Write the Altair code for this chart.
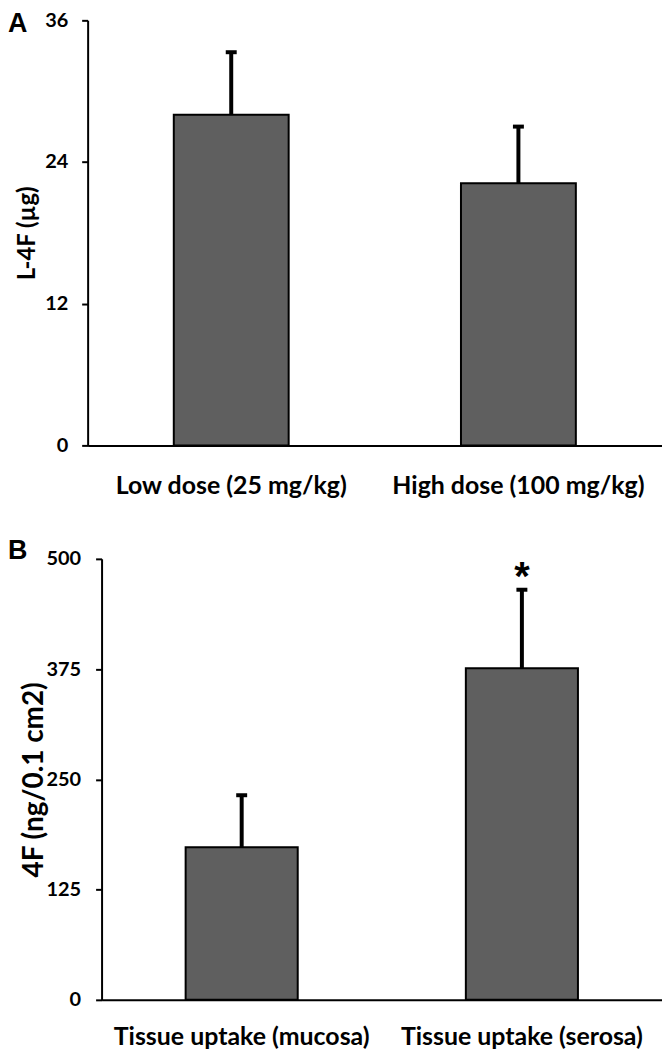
import altair as alt
import pandas as pd

# Panel A data
A_CATS = ["Low dose (25 mg/kg)", "High dose (100 mg/kg)"]
A_VALUES = [28.0, 22.2]
A_ERRORS = [5.3, 4.8]
A_TICKS = [0, 12, 24, 36]

# Panel B data
B_CATS = ["Tissue uptake (mucosa)", "Tissue uptake (serosa)"]
B_VALUES = [173, 376]
B_ERRORS = [59, 89]
B_SIG = ["", "*"]
B_TICKS = [0, 125, 250, 375, 500]

PANEL_LABELS = ["A", "B"]

LABEL_FONT = "Lato"
BAR_FILL = "#5f5f5f"


def panel(cats, values, errors, sig, domain, ticks, ytitle, ytitle_size, letter,
          width, height, xoff, title_x, ylab_pad, xlab_pad, letter_y):
    df = pd.DataFrame({"cat": cats, "value": values, "err": errors, "sig": sig})
    base = alt.Chart(df).transform_calculate(upper="datum.value + datum.err").encode(
        x=alt.X(
            "cat:N",
            sort=cats,
            scale=alt.Scale(range=[xoff, width], paddingInner=0.6, paddingOuter=0.3),
            axis=alt.Axis(
                title=None, labelAngle=0, ticks=False, tickSize=0,
                labelPadding=xlab_pad, labelFont=LABEL_FONT, labelFontSize=25,
                labelFontWeight="bold", labelColor="black",
                domainColor="black", domainWidth=2, labelLimit=400,
            ),
        )
    )
    yscale = alt.Scale(domain=domain, nice=False, zero=True)
    bars = base.mark_bar(color=BAR_FILL, stroke="black", strokeWidth=2).encode(
        y=alt.Y(
            "value:Q",
            scale=yscale,
            axis=alt.Axis(
                values=ticks, title=ytitle, grid=False, offset=-xoff,
                tickSize=6, tickWidth=2, tickColor="black",
                domainColor="black", domainWidth=2,
                labelPadding=ylab_pad, labelFont=LABEL_FONT, labelFontSize=20,
                labelFontWeight="bold", labelColor="black",
                titleFont=LABEL_FONT, titleFontSize=ytitle_size, titleFontWeight="bold",
                titleColor="black", titleX=title_x, titleBaseline="middle",
            ),
        )
    )
    stem = base.mark_rule(color="black", strokeWidth=4).encode(
        y=alt.Y("value:Q", scale=yscale), y2="upper:Q"
    )
    cap = base.mark_tick(color="black", thickness=4, size=11, orient="horizontal",
                         opacity=1).encode(
        y=alt.Y("upper:Q", scale=yscale)
    )
    layers = [bars, stem, cap]
    if any(s for s in sig):
        star = base.mark_text(
            baseline="alphabetic", fontSize=40, font="Liberation Sans",
            fontWeight="bold", color="black",
        ).encode(y=alt.Y("upper:Q", scale=yscale), text="sig:N")
        layers.append(star)
    letter_mark = alt.Chart(pd.DataFrame({"letter": [letter]})).mark_text(
        align="left", baseline="top", fontSize=27, font="Liberation Sans",
        fontWeight="bold", color="black",
    ).encode(x=alt.value(-80), y=alt.value(letter_y), text="letter:N")
    layers.append(letter_mark)
    return alt.layer(*layers).properties(width=width, height=height)


chart_a = panel(A_CATS, A_VALUES, A_ERRORS, ["", ""], [0, 36], A_TICKS, "L-4F (µg)", 24,
                PANEL_LABELS[0], 577, 427, 0, -60, 14, 28, -9)
chart_b = panel(B_CATS, B_VALUES, B_ERRORS, B_SIG, [0, 500], B_TICKS, "4F (ng/0.1 cm2)", 28,
                PANEL_LABELS[1], 577, 443, 14, -67, 15, 25, -21)

chart = alt.vconcat(chart_a, chart_b, spacing=114, bounds="flush").properties(
    padding={"left": 0, "top": 0, "right": 0, "bottom": 0}
).configure_view(stroke=None)

chart.save("out.html", embed_options={"renderer": "svg", "actions": False})
